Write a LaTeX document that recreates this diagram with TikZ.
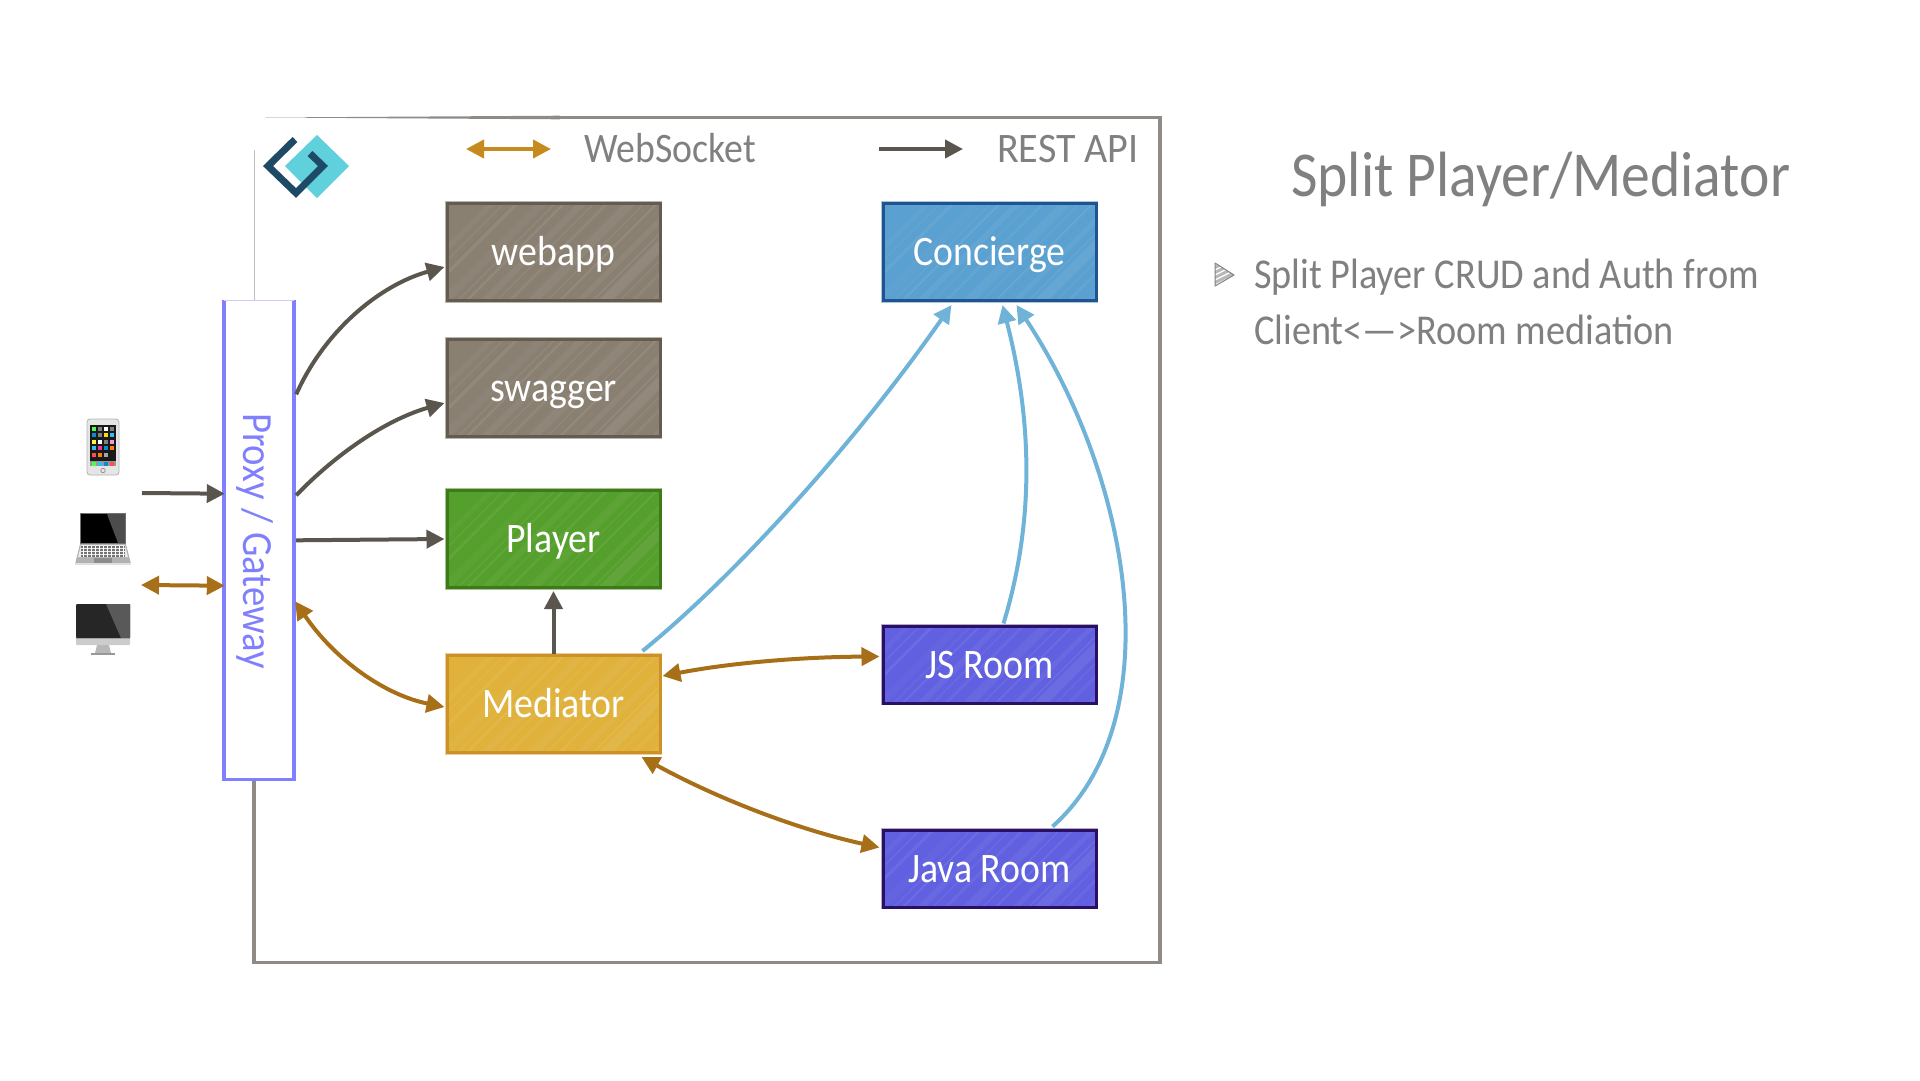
\documentclass[tikz,border=0pt]{standalone}
\usepackage{fontspec}
\setmainfont{Carlito}[FakeStretch=0.9]
\usetikzlibrary{arrows.meta,calc}
\definecolor{cText}{HTML}{808080}
\definecolor{cFrame}{HTML}{8F8A85}
\definecolor{cRest}{HTML}{5A564E}
\definecolor{cWs}{HTML}{A66F18}
\definecolor{cWsLeg}{HTML}{C68A1F}
\definecolor{cBlue}{HTML}{70B3D9}
\definecolor{cProxy}{HTML}{8080FF}
\definecolor{cGrayF}{HTML}{8A8072}\definecolor{cGrayB}{HTML}{655C50}
\definecolor{cGreenF}{HTML}{559F2C}\definecolor{cGreenB}{HTML}{3F7A18}
\definecolor{cGoldF}{HTML}{E0B23C}\definecolor{cGoldB}{HTML}{CC9226}
\definecolor{cSkyF}{HTML}{5AA0D0}\definecolor{cSkyB}{HTML}{1E5590}
\definecolor{cRoomF}{HTML}{6060E0}\definecolor{cRoomB}{HTML}{2A1065}
\definecolor{cTeal}{HTML}{5FD0DC}\definecolor{cNavy}{HTML}{1F4A66}
\tikzset{
  hatched/.style={path picture={
    \foreach \o/\w/\a in {-60/5/.04,-35/3/.07,-10/8/.03,12/2/.08,30/6/.05,55/3/.06,78/9/.05,105/2/.08,125/5/.05,150/10/.07,178/3/.05,200/6/.04,228/4/.03,250/7/.04,-48/1.5/.06,3/1.5/.06,42/1.5/.06,92/1.5/.06,138/1.5/.07,165/1.5/.05,214/1.5/.06}{
      \draw[white,opacity=\a,line width=\w pt]
        ($(path picture bounding box.south west)+(\o,8)$) -- ++(125,-125);
    }}},
  svc/.style={rectangle,minimum width=213pt,minimum height=97pt,inner sep=0pt,
    text=white,font=\fontsize{42}{42}\selectfont,text height=27pt,text depth=0pt,
    line width=3pt,hatched},
  greysvc/.style={svc,fill=cGrayF,draw=cGrayB,preaction={draw=cGrayB,draw opacity=.45,line width=4.5pt}},
  greensvc/.style={svc,fill=cGreenF,draw=cGreenB,preaction={draw=cGreenB,draw opacity=.45,line width=4.5pt}},
  goldsvc/.style={svc,fill=cGoldF,draw=cGoldB,preaction={draw=cGoldB,draw opacity=.45,line width=4.5pt}},
  skysvc/.style={svc,fill=cSkyF,draw=cSkyB,preaction={draw=cSkyB,draw opacity=.35,line width=4.5pt}},
  roomsvc/.style={svc,fill=cRoomF,draw=cRoomB,minimum height=77pt,preaction={draw=cRoomB,draw opacity=.35,line width=4.5pt}},
  note/.style={text=cText,inner sep=0pt,anchor=base west},
  legendtxt/.style={note,font=\fontsize{42}{42}\selectfont},
  rest/.style={draw=cRest,line width=4pt,-{Triangle[length=18pt,width=18pt]}},
  ws/.style={draw=cWs,line width=4pt,{Triangle[length=18pt,width=18pt]}-{Triangle[length=18pt,width=18pt]}},
  call/.style={draw=cBlue,line width=4pt,-{Triangle[length=18pt,width=18pt]}},
  framel/.style={draw=cFrame,line width=3.5pt},
}
\begin{document}
\begin{tikzpicture}[x=1pt,y=-1pt]
\useasboundingbox (0,0) rectangle (1920,1080);
% frame
\draw[framel,line join=miter] (560,117.5) -- (1160,117.5) -- (1160,962.5) -- (254,962.5) -- (254,780);
\fill[cFrame] (265,117.5) -- (560,115.7) -- (560,119.3) -- cycle;
\draw[black!25,line width=.7pt] (254.5,150) -- (254.5,300);
% logo
\fill[cTeal] (317,135) -- (349,166) -- (317,198) -- (285,166) -- cycle;
\draw[cNavy,line width=7pt,miter limit=4] (295,139.5) -- (268,166) -- (296,193) -- (323,166) -- (310,153.5);
% legend
\node[legendtxt] (wstext) at (584,162) {WebSocket};
\node[legendtxt] (resttext) at (997,162) {\scalebox{1.06}[1]{REST API}};
\coordinate (wsl) at ($(wstext.base west)+(-118,-13)$);
\coordinate (wsr) at ($(wstext.base west)+(-33,-13)$);
\coordinate (rl) at ($(resttext.base west)+(-118,-13)$);
\coordinate (rr) at ($(resttext.base west)+(-34,-13)$);
\draw[ws,draw=cWsLeg] (wsl) -- (wsr);
\draw[rest] (rl) -- (rr);
% services
\node[greysvc] (webapp) at (553.5,252) {webapp};
\node[greysvc] (swagger) at (553.5,388) {swagger};
\node[greensvc] (player) at (553.5,539) {Player};
\node[goldsvc] (mediator) at (553.5,704) {Mediator};
\node[skysvc] (concierge) at (989.5,252) {Concierge};
\node[roomsvc] (jsroom) at (989.5,664.5) {JS Room};
\node[roomsvc] (javaroom) at (989.5,868.5) {Java Room};
% proxy
\node[rectangle,minimum width=70pt,minimum height=479pt,inner sep=0pt] (proxy) at (259,540) {};
\draw[cProxy,line width=3.5pt] (proxy.north west) -- (proxy.south west) -- (proxy.south east) -- (proxy.north east);
\draw[cProxy!40,line width=.7pt] (proxy.north west) -- (proxy.north east);
\node[rotate=-90,text=cProxy,inner sep=0pt,font=\fontsize{43}{43}\selectfont,text height=27pt,text depth=0pt] (proxytext) at (256.5,541) {Proxy / Gateway};
% devices
\coordinate (phone) at (87,419);
\begin{scope}[shift={(phone)}]
  \draw[black!30,fill=black!10,rounded corners=3pt,line width=.8pt] (0,0) rectangle (32,56);
  \fill[black!90] (3,6) rectangle (29,42);
  \foreach \c [count=\i from 0] in {green!70,gray,white,gray,cyan!70!blue,gray,yellow!80!orange,cyan!80,yellow!80,white,gray,magenta!40,cyan!80,magenta!80,cyan!70!blue,orange,red!70,orange,gray!70,black!90}{
    \pgfmathtruncatemacro\cx{mod(\i,4)}\pgfmathtruncatemacro\cy{floor(\i/4)}
    \fill[\c] (4.5+6.3*\cx,8+6.4*\cy) rectangle ++(4,4);
  }
  \fill[black!40] (3,42) rectangle (29,47);
  \foreach \c [count=\i from 0] in {green!70,cyan!80,cyan!70!blue,red!70}{\fill[\c] (4.5+6.3*\i,43) rectangle ++(4,3.5);}
  \draw[black!50,line width=.6pt] (16,51.5) circle (2.2);
\end{scope}
\coordinate (laptop) at (75,513);
\begin{scope}[shift={(laptop)}]
  \fill[black!55] (5,0) rectangle (51,31);
  \fill[black] (6,1) rectangle (50,30);
  \fill[black!70] (32,1) -- (50,1) -- (50,30) -- (43,30) -- cycle;
  \fill[black!30] (5,31) -- (51,31) -- (56,51) -- (0,51) -- cycle;
  \fill[black!8] (6,32) -- (50,32) -- (53,44) -- (3,44) -- cycle;
  \foreach \yy in {34,37,40,43}{\draw[black!55,line width=1.1pt] (6,\yy) -- (50,\yy);}
  \foreach \xx in {8,12,...,48}{\draw[white,line width=.6pt] (\xx,32.5) -- (\xx,44);}
  \fill[black!45] (19,45) rectangle (37,50);
  \fill[black!12] (0,50) rectangle (56,51.5);
\end{scope}
\coordinate (desktop) at (76,604);
\begin{scope}[shift={(desktop)}]
  \fill[black!20,rounded corners=1pt] (0,0) rectangle (54,41);
  \fill[black!85,rounded corners=1pt] (0,0) rectangle (54,34);
  \fill[black!65] (30,0) -- (54,0) -- (54,34) -- (45,34) -- cycle;
  \fill[black!35] (0,34) rectangle (54,35);
  \fill[black!28] (21,41) -- (33,41) -- (35,49) -- (19,49) -- cycle;
  \fill[black!40] (15,49) rectangle (39,51);
\end{scope}
% client arrows
\coordinate (cRestS) at (142,493);
\coordinate (cWsS) at (141,585);
\coordinate (pClientRest) at ($(proxy.south west)+(1,-286)$);
\coordinate (pClientWs) at ($(proxy.south west)+(1,-194)$);
\draw[rest] (cRestS) -- (pClientRest);
\draw[ws] (cWsS) -- (pClientWs);
% rest
\coordinate (p1) at ($(proxy.north east)+(2,94)$);
\coordinate (p2) at ($(proxy.north east)+(2,195)$);
\coordinate (p3) at ($(proxy.north east)+(2,240)$);
\coordinate (p4) at ($(proxy.north east)+(1,301)$);
\coordinate (e1) at ($(webapp.west)+(-1,15)$);
\coordinate (e2) at ($(swagger.west)+(-1,15)$);
\coordinate (e3) at ($(player.west)+(-1,0)$);
\coordinate (e5) at ($(mediator.west)+(-1,3)$);
\draw[rest] (p1) .. controls (325,330) and (380,285) .. (e1);
\draw[rest] (p2) .. controls (335,455) and (385,420) .. (e2);
\draw[rest] (p3) -- (e3);
\draw[rest] (mediator.north) -- ($(player.south)+(0,2)$);
\draw[ws] (p4) .. controls (335,660) and (385,695) .. (e5);
% mediator websockets
\coordinate (m1) at ($(mediator.north east)+(1,22)$);
\coordinate (m2) at ($(mediator.south east)+(-20,3)$);
\coordinate (j1) at ($(jsroom.north west)+(-2,32)$);
\coordinate (j2) at ($(javaroom.north west)+(-2,19)$);
\draw[ws] (m1) .. controls (730,663) and (800,657) .. (j1);
\draw[ws] (m2) .. controls (720,800) and (800,830) .. (j2);
% concierge calls
\coordinate (c1) at ($(concierge.south west)+(70,3)$);
\coordinate (c2) at ($(concierge.south west)+(121,3)$);
\coordinate (c3) at ($(concierge.south west)+(135,3)$);
\coordinate (ms) at ($(mediator.north east)+(-19,-3)$);
\coordinate (js) at ($(jsroom.north west)+(122,-1)$);
\coordinate (jv) at ($(javaroom.north west)+(171,-2)$);
\draw[call] (ms) .. controls (730,580) and (850,450) .. (c1);
\draw[call] (js) .. controls (1035,520) and (1032,420) .. (c2);
\draw[call] (jv) .. controls (1172,720) and (1132,480) .. (c3);
% notes
\node[note,font=\fontsize{64}{64}\selectfont] (title) at (1291,196) {Split Player/Mediator};
\begin{scope}
  \clip (1215,263) -- (1234,275) -- (1215,286) -- cycle;
  \fill[black!28] (1215,263) rectangle (1234,286);
  \foreach \d in {0,5,10,15,20}{\draw[white,line width=1.3pt] (1213,\d+266) -- ++(24,-12);}
\end{scope}
\draw[black!50,line width=1pt,line join=round] (1215,263) -- (1234,275) -- (1215,286) -- cycle;
\node[note,font=\fontsize{42.5}{42.5}\selectfont] (b1) at (1254,288) {Split Player CRUD and Auth from};
\node[note,font=\fontsize{42.5}{42.5}\selectfont] (b2) at (1254,344) {Client<—>Room mediation};
\end{tikzpicture}
\end{document}
